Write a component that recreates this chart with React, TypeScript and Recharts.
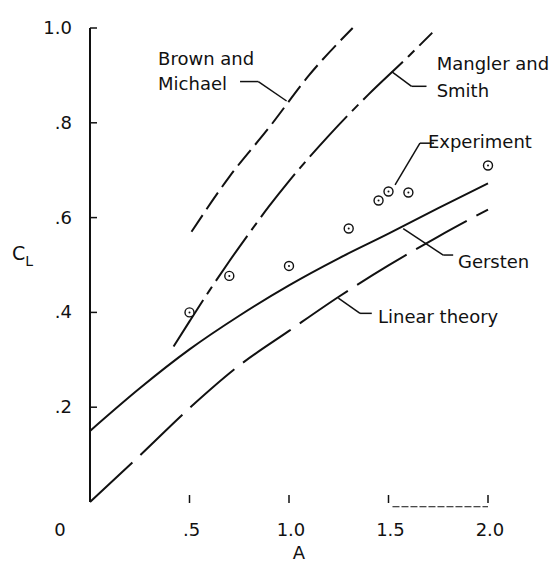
import React from "react"
import {
  ComposedChart,
  Line,
  Scatter,
  XAxis,
  YAxis,
  ReferenceLine,
  ReferenceDot,
  Label,
} from "recharts"

// Lift coefficient vs aspect ratio — theories compared with experiment.
const FONT = "'DejaVu Sans', sans-serif"
const INK = "#111"

// axis ticks
const xTicks = [0, 0.5, 1.0, 1.5, 2.0]
const xTickLabels = ["0", ".5", "1.0", "1.5", "2.0"]
const yTicks = [0.2, 0.4, 0.6, 0.8, 1.0]
const yTickLabels = [".2", ".4", ".6", ".8", "1.0"]

// Linear theory
const linearA = [0, 0.25, 0.5, 0.75, 1.0, 1.25, 1.5, 1.75, 2.0]
const linearCL = [0, 0.098, 0.198, 0.288, 0.361, 0.433, 0.499, 0.56, 0.617]

// Gersten
const gerstenA = [0, 0.25, 0.5, 0.75, 1.0, 1.25, 1.5, 1.75, 2.0]
const gerstenCL = [0.15, 0.24, 0.322, 0.393, 0.457, 0.514, 0.566, 0.62, 0.672]

// Mangler and Smith
const manglerA = [0.42, 0.5, 0.6, 0.7, 0.8, 0.9, 1.0, 1.2, 1.4, 1.6, 1.72]
const manglerCL = [0.328, 0.381, 0.446, 0.508, 0.567, 0.624, 0.677, 0.773, 0.86, 0.94, 0.99]

// Brown and Michael
const brownA = [0.51, 0.7, 0.9, 1.1, 1.32]
const brownCL = [0.57, 0.686, 0.79, 0.9, 1.0]

// Experiment
const expA = [0.5, 0.7, 1.0, 1.3, 1.45, 1.5, 1.6, 2.0]
const expCL = [0.4, 0.477, 0.498, 0.577, 0.636, 0.655, 0.653, 0.71]

// annotation labels: text lines, anchor (A, CL of first baseline)
const labelText = [["Brown and", "Michael"], ["Mangler and", "Smith"], ["Experiment"], ["Gersten"], ["Linear theory"]]
const labelA = [0.342, 1.742, 1.698, 1.849, 1.447]
const labelCL = [0.922, 0.911, 0.747, 0.494, 0.378]
const lineGap = [25, 27, 0, 0, 0]

// leader lines (A, CL) polylines
const leaders: [number, number][][] = [
  [[0.754, 0.887], [0.846, 0.887], [0.988, 0.846]],
  [[1.516, 0.908], [1.616, 0.877], [1.691, 0.877]],
  [[1.729, 0.757], [1.658, 0.757], [1.533, 0.669]],
  [[1.574, 0.577], [1.775, 0.521], [1.825, 0.521]],
  [[1.248, 0.43], [1.357, 0.398], [1.416, 0.398]],
]

const toPts = (xs: number[], ys: number[]) => xs.map((a, i) => ({ a, cl: ys[i] }))

function XTick(props: any) {
  const { x, y, payload } = props
  const i = xTicks.indexOf(payload.value)
  const isZero = payload.value === 0
  return (
    <g>
      {!isZero && <line x1={x} x2={x} y1={y - 7} y2={y + 1} stroke={INK} strokeWidth={1.5} />}
      <text
        x={isZero ? x - 30 : x + 2}
        y={y + 34}
        textAnchor="middle"
        fontFamily={FONT}
        fontSize={18}
        fill={INK}
      >
        {xTickLabels[i]}
      </text>
    </g>
  )
}

function YTick(props: any) {
  const { x, y, payload } = props
  const i = yTicks.indexOf(payload.value)
  return (
    <g>
      <line x1={x} x2={x + 7} y1={y} y2={y} stroke={INK} strokeWidth={1.5} />
      <text x={x - 18} y={y + 6} textAnchor="end" fontFamily={FONT} fontSize={18} fill={INK}>
        {yTickLabels[i]}
      </text>
    </g>
  )
}

function ExpMarker(props: any) {
  const { cx, cy } = props
  return (
    <g>
      <circle cx={cx} cy={cy} r={4.5} fill="#fff" stroke={INK} strokeWidth={1.4} />
      <circle cx={cx} cy={cy} r={1} fill={INK} />
    </g>
  )
}

export default function App() {
  return (
    <div style={{ position: "absolute", left: 0, top: 0, width: 550, height: 562, background: "#fff" }}>
      <ComposedChart
        width={550}
        height={562}
        margin={{ top: 28, right: 62, bottom: 30, left: 30 }}
      >
        <XAxis
          type="number"
          dataKey="a"
          domain={[0, 2]}
          ticks={xTicks}
          axisLine={false}
          tickLine={false}
          tickSize={0}
          tickMargin={0}
          height={30}
          tick={<XTick />}
          interval={0}
        >
          <Label
            content={(p: any) => (
              <text
                x={p.viewBox.x + p.viewBox.width / 2 + 10}
                y={p.viewBox.y + 57}
                textAnchor="middle"
                fontFamily={FONT}
                fontSize={18}
                fill={INK}
              >
                A
              </text>
            )}
          />
        </XAxis>
        <YAxis
          type="number"
          domain={[0, 1]}
          ticks={yTicks}
          axisLine={{ stroke: INK, strokeWidth: 2 }}
          tickLine={false}
          tickSize={0}
          tickMargin={0}
          width={60}
          tick={<YTick />}
          interval={0}
        >
          <Label
            content={(p: any) => (
              <text x={p.viewBox.x - 18} y={260} fontFamily={FONT} fontSize={19} fill={INK}>
                C
                <tspan fontSize={14} dy={6}>
                  L
                </tspan>
              </text>
            )}
          />
        </YAxis>

        <Line
          data={toPts(linearA, linearCL)}
          dataKey="cl"
          type="monotone"
          stroke={INK}
          strokeWidth={2}
          strokeDasharray="58 11"
          dot={false}
          isAnimationActive={false}
        />
        <Line
          data={toPts(gerstenA, gerstenCL)}
          dataKey="cl"
          type="monotone"
          stroke={INK}
          strokeWidth={2}
          dot={false}
          isAnimationActive={false}
        />
        <Line
          data={toPts(manglerA, manglerCL)}
          dataKey="cl"
          type="monotone"
          stroke={INK}
          strokeWidth={2}
          strokeDasharray="55 7 9 7"
          dot={false}
          isAnimationActive={false}
        />
        <Line
          data={toPts(brownA, brownCL)}
          dataKey="cl"
          type="monotone"
          stroke={INK}
          strokeWidth={2}
          strokeDasharray="20 7"
          dot={false}
          isAnimationActive={false}
        />
        <Scatter
          data={toPts(expA, expCL)}
          dataKey="cl"
          shape={<ExpMarker />}
          isAnimationActive={false}
        />

        {leaders.flatMap((pts, li) =>
          pts.slice(1).map((p, k) => (
            <ReferenceLine
              key={`ld-${li}-${k}`}
              segment={[
                { x: pts[k][0], y: pts[k][1] },
                { x: p[0], y: p[1] },
              ]}
              stroke={INK}
              strokeWidth={1.5}
              ifOverflow="visible"
            />
          ))
        )}

        {/* bracket under 1.5 - 2.0 */}
        <ReferenceLine
          segment={[
            { x: 1.52, y: -0.01 },
            { x: 2.0, y: -0.01 },
          ]}
          stroke={INK}
          strokeWidth={1}
          strokeDasharray="7 2"
          ifOverflow="visible"
        />

        {labelText.map((lines, i) => (
          <ReferenceDot
            key={`lb-${i}`}
            x={labelA[i]}
            y={labelCL[i]}
            r={0}
            ifOverflow="visible"
            shape={(p: any) => (
              <text x={p.cx} y={p.cy} fontFamily={FONT} fontSize={18} fill={INK}>
                {lines.map((t, j) => (
                  <tspan key={j} x={p.cx} dy={j === 0 ? 0 : lineGap[i]}>
                    {t}
                  </tspan>
                ))}
              </text>
            )}
          />
        ))}
      </ComposedChart>
    </div>
  )
}
